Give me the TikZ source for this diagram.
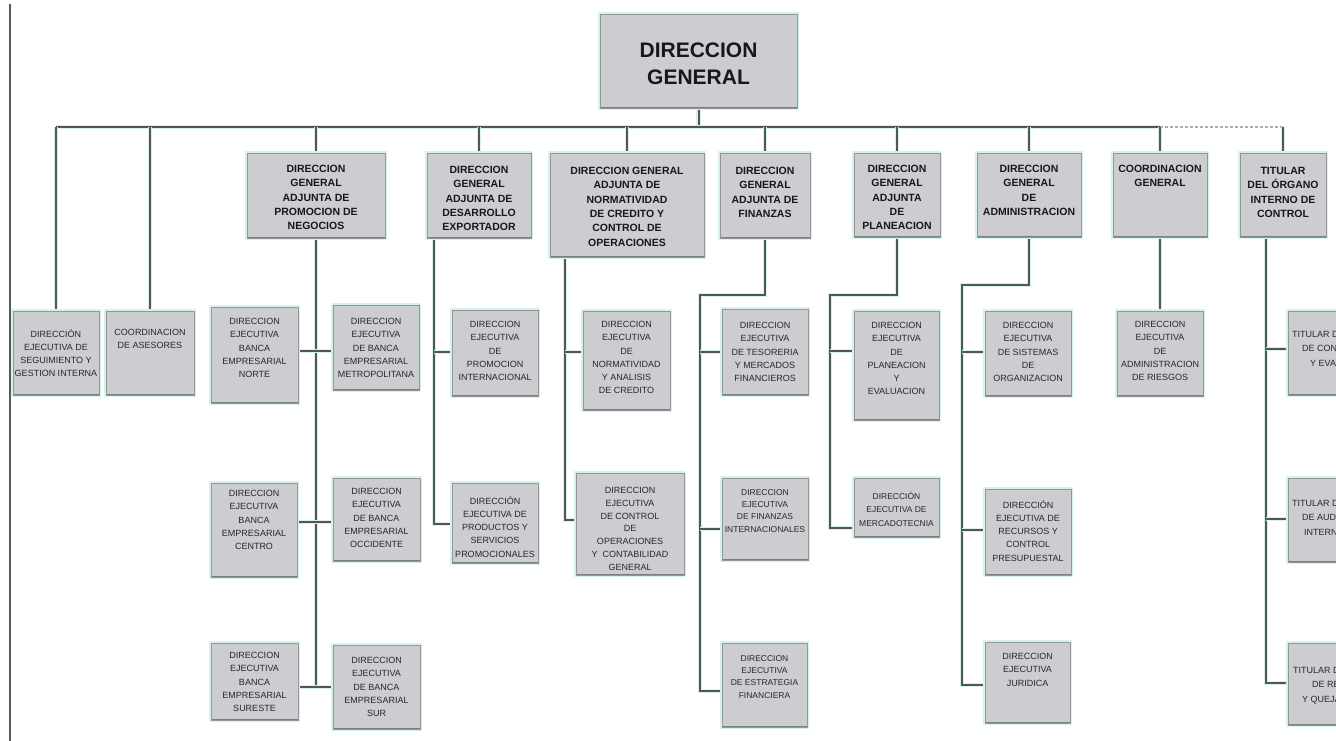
\documentclass[tikz,border=0pt]{standalone}
\usepackage{fontspec}
\setmainfont{Liberation Sans}
\usetikzlibrary{backgrounds}

\definecolor{boxfill}{RGB}{205,204,208}
\definecolor{mint}{RGB}{214,242,234}
\definecolor{linec}{RGB}{84,86,86}
\definecolor{edgegray}{RGB}{150,150,152}
\definecolor{edgedark}{RGB}{125,125,128}
\definecolor{pageline}{RGB}{78,94,90}
\definecolor{smalltext}{RGB}{40,40,40}
\definecolor{headtext}{RGB}{24,24,24}
\definecolor{dashgray}{RGB}{170,172,172}

\tikzset{
  orgbox/.style={fill=boxfill, draw=edgegray, line width=0.6pt, inner sep=0pt, outer sep=0pt,
    preaction={draw=mint, line width=3.2pt},
    path picture={\draw[edgedark, line width=2.4pt]
      (path picture bounding box.north west) -- (path picture bounding box.south west)
      -- (path picture bounding box.south east);}},
  smalltxt/.style={font=\fontsize{9}{13.3}\selectfont, text=smalltext, align=center, inner sep=0pt},
  headtxt/.style={font=\bfseries\fontsize{10.5}{14.3}\selectfont, text=headtext, align=center, inner sep=0pt},
  toptxt/.style={font=\bfseries\fontsize{21}{27}\selectfont, text=headtext, align=center, inner sep=0pt},
  conn/.style={draw=linec, line width=2pt, preaction={draw=mint, line width=4.2pt}},
  bardash/.style={draw=dashgray, line width=1.3pt, dash pattern=on 3pt off 2pt},
}

% \orgbox[text style]{name}{x1}{y1}{x2}{y2}{text top}{text}
\newcommand\orgbox[8][smalltxt]{%
  \node[orgbox, anchor=north west, minimum width={(#5-#3)*1pt}, minimum height={(#6-#4)*1pt}] (#2) at (#3,#4) {};
  \node[#1, anchor=north] (#2t) at ([yshift={-(#7-#4)*1pt}]#2.north) {#8};
}

\begin{document}
\begin{tikzpicture}[x=1pt, y=-1pt]
\useasboundingbox (0,0) rectangle (1336,741);
\clip (0,0) rectangle (1336,741);

% left margin rule
\draw[pageline, line width=2.6pt] (10,4) -- (10,741);

% top
\orgbox[toptxt]{dg}{600}{14}{797}{108}{43}{DIRECCION\\GENERAL}

% first level
\orgbox{seg}{13}{311}{99}{395}{329}{DIRECCIÓN\\EJECUTIVA DE\\SEGUIMIENTO Y\\GESTION INTERNA}
\orgbox{ase}{106}{311}{194}{395}{329}{COORDINACION\\DE ASESORES}
\orgbox[headtxt]{pn}{247}{153}{385}{238}{165}{DIRECCION\\GENERAL\\ADJUNTA DE\\PROMOCION DE\\NEGOCIOS}
\orgbox[headtxt]{de}{427}{153}{531}{238}{166}{DIRECCION\\GENERAL\\ADJUNTA DE\\DESARROLLO\\EXPORTADOR}
\orgbox[headtxt]{nc}{550}{153}{704}{257}{167}{DIRECCION GENERAL\\ADJUNTA DE\\NORMATIVIDAD\\DE CREDITO Y\\CONTROL DE\\OPERACIONES}
\orgbox[headtxt]{fi}{720}{153}{810}{238}{167}{DIRECCION\\GENERAL\\ADJUNTA DE\\FINANZAS}
\orgbox[headtxt]{pl}{854}{153}{940}{237}{165}{DIRECCION\\GENERAL\\ADJUNTA\\DE\\PLANEACION}
\orgbox[headtxt]{ad}{977}{153}{1081}{237}{165}{DIRECCION\\GENERAL\\DE\\ADMINISTRACION}
\orgbox[headtxt]{cg}{1113}{153}{1207}{237}{165}{COORDINACION\\GENERAL}
\orgbox[headtxt]{tit}{1240}{153}{1326}{237}{167}{TITULAR\\DEL ÓRGANO\\INTERNO DE\\CONTROL}

% promocion de negocios
\orgbox{nor}{211}{307}{298}{403}{318}{DIRECCION\\EJECUTIVA\\BANCA\\EMPRESARIAL\\NORTE}
\orgbox{met}{333}{305}{419}{390}{318}{DIRECCION\\EJECUTIVA\\DE BANCA\\EMPRESARIAL\\METROPOLITANA}
\orgbox{cen}{211}{483}{297}{577}{490}{DIRECCION\\EJECUTIVA\\BANCA\\EMPRESARIAL\\CENTRO}
\orgbox{occ}{333}{478}{420}{561}{488}{DIRECCION\\EJECUTIVA\\DE BANCA\\EMPRESARIAL\\OCCIDENTE}
\orgbox{sue}{211}{643}{298}{720}{652}{DIRECCION\\EJECUTIVA\\BANCA\\EMPRESARIAL\\SURESTE}
\orgbox{sur}{333}{645}{420}{729}{657}{DIRECCION\\EJECUTIVA\\DE BANCA\\EMPRESARIAL\\SUR}

% desarrollo exportador
\orgbox{pin}{452}{310}{538}{396}{321}{DIRECCION\\EJECUTIVA\\DE\\PROMOCION\\INTERNACIONAL}
\orgbox{pro}{452}{483}{538}{563}{496}{DIRECCIÓN\\EJECUTIVA DE\\PRODUCTOS Y\\SERVICIOS\\PROMOCIONALES}

% normatividad
\orgbox{nan}{583}{311}{670}{410}{321}{DIRECCION\\EJECUTIVA\\DE\\NORMATIVIDAD\\Y ANALISIS\\DE CREDITO}
\orgbox[smalltxt, font=\fontsize{9}{12.8}\selectfont]{cop}{576}{473}{684}{575}{487}{DIRECCION\\EJECUTIVA\\DE CONTROL\\DE\\OPERACIONES\\Y\ \ CONTABILIDAD\\GENERAL}

% finanzas
\orgbox{tes}{722}{309}{808}{395}{322}{DIRECCION\\EJECUTIVA\\DE TESORERIA\\Y MERCADOS\\FINANCIEROS}
\orgbox[smalltxt, font=\fontsize{8.5}{12.3}\selectfont]{fin}{722}{478}{808}{560}{489}{DIRECCION\\EJECUTIVA\\DE FINANZAS\\INTERNACIONALES}
\orgbox[smalltxt, font=\fontsize{8.5}{12.3}\selectfont]{est}{722}{643}{807}{727}{655}{DIRECCION\\EJECUTIVA\\DE ESTRATEGIA\\FINANCIERA}

% planeacion
\orgbox{pev}{854}{311}{939}{420}{322}{DIRECCION\\EJECUTIVA\\DE\\PLANEACION\\Y\\EVALUACION}
\orgbox[smalltxt, font=\fontsize{8.5}{13.3}\selectfont]{mer}{854}{478}{939}{537}{492}{DIRECCIÓN\\EJECUTIVA DE\\MERCADOTECNIA}

% administracion
\orgbox{sis}{985}{311}{1071}{396}{322}{DIRECCION\\EJECUTIVA\\DE SISTEMAS\\DE\\ORGANIZACION}
\orgbox{rec}{985}{489}{1071}{575}{500}{DIRECCIÓN\\EJECUTIVA DE\\RECURSOS Y\\CONTROL\\PRESUPUESTAL}
\orgbox{jur}{985}{642}{1070}{723}{653}{DIRECCION\\EJECUTIVA\\JURIDICA}

% coordinacion general
\orgbox{rie}{1117}{311}{1203}{396}{321}{DIRECCION\\EJECUTIVA\\DE\\ADMINISTRACION\\DE RIESGOS}

% organo interno de control
\node[orgbox, anchor=north west, minimum width=92pt, minimum height=84pt] (t1) at (1288,311) {};
\node[smalltxt, align=left, font=\fontsize{9}{14.5}\selectfont, anchor=north west] (t1t)
  at ([xshift=4pt, yshift=-18pt]t1.north west) {TITULAR DEL ÁREA\\\hspace*{10pt}DE CONTROL\\\hspace*{18pt}Y EVALUACIÓN};
\node[orgbox, anchor=north west, minimum width=92pt, minimum height=84pt] (t2) at (1288,478) {};
\node[smalltxt, align=left, font=\fontsize{9}{14.5}\selectfont, anchor=north west] (t2t)
  at ([xshift=4pt, yshift=-20pt]t2.north west) {TITULAR DEL ÁREA\\\hspace*{10pt}DE AUDITORÍA\\\hspace*{12pt}INTERNA};
\node[orgbox, anchor=north west, minimum width=92pt, minimum height=82pt] (t3) at (1288,643) {};
\node[smalltxt, align=left, font=\fontsize{9}{14.5}\selectfont, anchor=north west] (t3t)
  at ([xshift=5pt, yshift=-22pt]t3.north west) {TITULAR DEL ÁREA\\\hspace*{19pt}DE RESPONSABILIDADES\\\hspace*{9pt}Y QUEJAS};

\begin{scope}[on background layer]
  \fill[white] (0,0) rectangle (1336,741);

  % main bar
  \coordinate (bar) at (698,127);
  \draw[conn] (dg.south) -- (dg.south |- bar);
  \draw[conn] (seg.north |- bar) -- (cg.north |- bar);
  \draw[bardash] (cg.north |- bar) -- (tit.north |- bar);
  \foreach \n in {seg,ase,pn,de,nc,fi,pl,ad,cg,tit}
    \draw[conn] (\n.north |- bar) -- (\n.north);

  % promocion de negocios
  \coordinate (pnA) at (316,351);
  \coordinate (pnB) at (316,522);
  \coordinate (pnC) at (316,687);
  \draw[conn] (pn.south) -- (pn.south |- pnC);
  \draw[conn] (nor.east |- pnA) -- (met.west |- pnA);
  \draw[conn] (cen.east |- pnB) -- (occ.west |- pnB);
  \draw[conn] (sue.east |- pnC) -- (sur.west |- pnC);

  % desarrollo exportador
  \coordinate (deA) at (434,352);
  \coordinate (deB) at (434,524);
  \draw[conn] (deA |- de.south) -- (deB) -- (pro.west |- deB);
  \draw[conn] (deA) -- (pin.west |- deA);

  % normatividad
  \coordinate (ncA) at (565,352);
  \coordinate (ncB) at (565,520);
  \draw[conn] (ncA |- nc.south) -- (ncB) -- (cop.west |- ncB);
  \draw[conn] (ncA) -- (nan.west |- ncA);

  % finanzas
  \coordinate (fiK) at (700,295);
  \coordinate (fiA) at (700,352);
  \coordinate (fiB) at (700,529);
  \coordinate (fiC) at (700,691);
  \draw[conn] (fi.south) -- (fi.south |- fiK) -- (fiK) -- (fiC) -- (est.west |- fiC);
  \draw[conn] (fiA) -- (tes.west |- fiA);
  \draw[conn] (fiB) -- (fin.west |- fiB);

  % planeacion
  \coordinate (plK) at (830,295);
  \coordinate (plA) at (830,351);
  \coordinate (plB) at (830,528);
  \draw[conn] (pl.south) -- (pl.south |- plK) -- (plK) -- (plB) -- (mer.west |- plB);
  \draw[conn] (plA) -- (pev.west |- plA);

  % administracion
  \coordinate (adK) at (962,285);
  \coordinate (adA) at (962,352);
  \coordinate (adB) at (962,530);
  \coordinate (adC) at (962,685);
  \draw[conn] (ad.south) -- (ad.south |- adK) -- (adK) -- (adC) -- (jur.west |- adC);
  \draw[conn] (adA) -- (sis.west |- adA);
  \draw[conn] (adB) -- (rec.west |- adB);

  % coordinacion general
  \draw[conn] (cg.south) -- (rie.north);

  % organo interno de control
  \coordinate (tiA) at (1266,349);
  \coordinate (tiB) at (1266,519);
  \coordinate (tiC) at (1266,683);
  \draw[conn] (tiA |- tit.south) -- (tiC) -- (t3.west |- tiC);
  \draw[conn] (tiA) -- (t1.west |- tiA);
  \draw[conn] (tiB) -- (t2.west |- tiB);
\end{scope}
\end{tikzpicture}
\end{document}
